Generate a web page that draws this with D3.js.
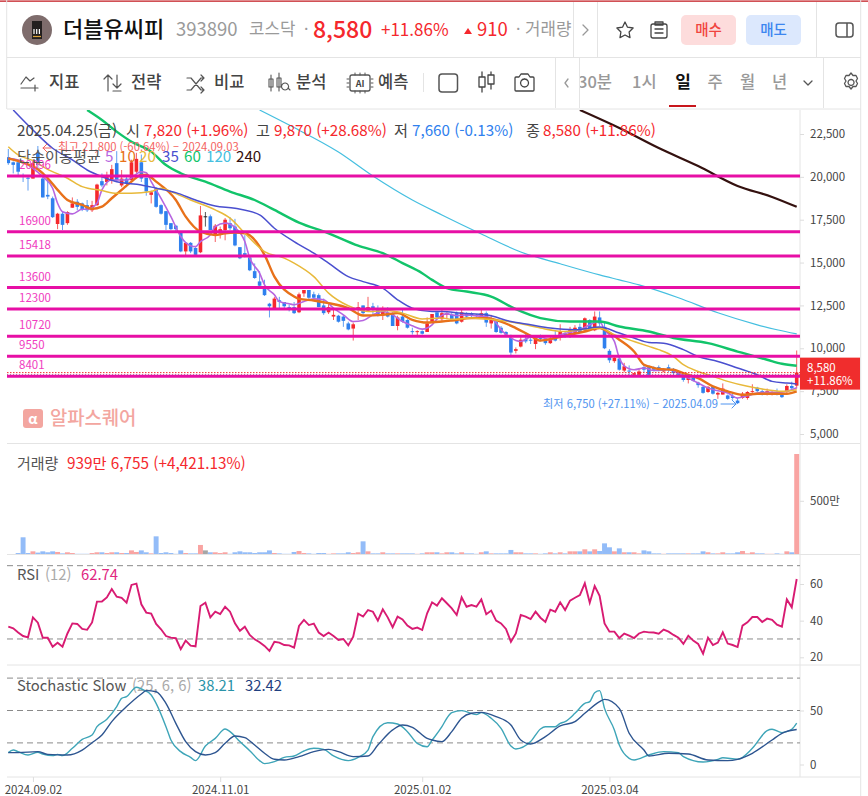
<!DOCTYPE html>
<html lang="ko"><head><meta charset="utf-8">
<script src="https://cdn.jsdelivr.net/npm/d3@7/dist/d3.min.js"></script>
<style>
html,body{margin:0;padding:0;background:#fff}
svg{display:block}
text{font-family:"Noto Sans CJK KR","Noto Sans",sans-serif}
</style></head><body><div id="chart"></div>
<script>
// ---------- candles (KRW), oldest first, one per trading day ----------
const opens=[21150,20850,20850,20100,19950,19900,21400,19900,18950,18750,17250,17850,17300,18200,18550,18450,18350,18050,18350,19750,
19700,19800,20800,19500,19900,19800,20300,20850,19950,18950,19300,18350,18000,17300,17150,16750,15650,16150,15850,15600,
17700,17700,16600,16700,16900,17300,17100,15900,15550,15300,14500,13900,13500,12600,12350,12800,12700,12400,12400,12100,
13200,13400,13150,13100,12500,12100,11850,11900,11850,11450,11150,12350,12500,12200,12450,12350,11950,12050,12050,11300,
11850,11650,11000,10950,11000,10950,11550,12100,11700,11950,11950,12050,11550,12050,12050,11950,11800,12050,11450,11550,
11200,10950,10600,9850,10100,10550,10500,10250,10650,10550,10300,10650,10650,10850,10700,10900,11250,11050,11650,11050,
11800,11250,9850,9250,9400,8700,8700,8450,8450,8900,8900,8900,8900,8650,8900,8800,8600,8450,8150,8300,
8000,7750,7450,7750,7300,7300,7250,7200,6950,7100,7100,7450,7700,7500,7300,7350,7450,7300,7450,7800,7820];
const highs=[21625,20900,21000,20200,20050,21000,21800,20000,19900,18850,17900,17950,18000,18800,18700,18500,18650,18600,19600,20200,
20300,20700,21500,20400,20100,21000,21400,21300,19950,19200,19400,18400,18000,17300,17200,16750,16200,16200,15900,18300,
17950,17800,17250,17100,17600,17650,17550,15900,16600,15350,14950,14500,14000,12650,13000,13000,12700,12550,12700,13250,
13400,13400,13300,13200,12900,12650,12300,11950,11950,11550,11500,12700,12500,13000,12650,12500,12450,12400,12100,11900,
12250,11700,11200,11050,11050,11800,12000,12100,12250,12100,12100,12150,12300,12100,12100,12000,12300,12150,11950,11600,
11300,11000,10800,10050,10650,10950,10600,10650,10800,10600,10700,11000,11400,11000,11250,11350,11450,11800,11700,12150,
12150,11500,9950,9550,9400,9150,9000,8550,8850,9050,9000,8950,9000,8850,9050,8850,8650,8500,8350,8350,
8050,7800,7800,7800,7450,7950,7300,7400,7100,7450,7500,7900,7750,7600,7650,7500,7650,7350,7900,8050,9870];
const lows=[20700,20200,20050,19700,19200,19900,20400,18800,18700,17600,16950,16900,17200,18200,18050,18000,17950,17950,18300,19400,
19500,19600,19700,19400,19400,19800,20200,19700,18900,18450,18200,17800,16900,16900,16750,15600,15400,15550,15400,15550,
17100,16900,16200,16400,16300,16900,15950,15200,15300,14500,14050,13600,13050,11800,12350,12300,12250,12150,12000,12050,
13000,12850,12900,12400,11950,12000,11650,11500,11250,11050,10450,11650,11950,12150,11950,11850,11650,11800,11300,11050,
11500,11150,10800,10750,10800,10950,11550,11750,11600,11700,11650,11400,11500,11800,11750,11750,11800,11250,11150,10900,
10850,10650,9550,9700,10050,10300,10250,9950,10400,10200,10250,10400,10450,10600,10600,10800,10900,11000,11000,11000,
11300,9950,9150,9150,8700,8600,8400,8400,8350,8600,8350,8650,8650,8600,8600,8450,8400,8050,7950,8050,
7700,7350,7400,7300,7050,7300,7000,7000,6750,7050,7000,7400,7450,7250,7250,7250,7250,7100,7400,7600,7660];
const closes=[20800,20700,20300,20050,19900,20800,20700,18800,18850,17650,17850,17200,17950,18450,18250,18100,18050,18350,19550,19500,
20000,20450,19800,19900,19600,20850,21050,19900,19150,19100,18250,17850,17200,16950,16950,15650,16150,15650,15450,17750,
17700,16900,17150,16950,17500,17000,16000,15250,15450,14550,14100,13650,13100,12450,12900,12700,12450,12300,12050,13150,
13400,12950,12950,12400,12050,12400,11950,11550,11600,11100,11400,12400,12050,12400,12350,11900,12250,11850,11300,11800,
11550,11200,10950,11000,10850,11450,12000,11800,12050,12050,11700,11450,12100,11850,11900,11900,12050,11500,11650,10950,
10900,10800,9750,9950,10500,10400,10450,10600,10550,10300,10550,10450,10950,10750,11100,11200,10950,11750,11050,11850,
11450,10000,9300,9450,8750,8950,8650,8550,8650,8750,8450,8750,8700,8800,8750,8550,8450,8150,8300,8100,
7850,7400,7750,7350,7400,7650,7050,7100,6800,7350,7450,7500,7500,7300,7500,7450,7350,7150,7800,7670,8580];
// volume in units of 10,000 shares (만)
const volumes=[0,0,9,157,9,25,13,25,16,25,19,6,16,9,2,2,2,9,16,16,
9,16,16,9,9,34,19,34,16,6,166,9,16,9,2,34,9,6,6,85,
34,16,16,9,16,2,16,25,16,16,9,16,16,34,9,6,2,2,19,28,
9,6,2,9,9,2,6,6,6,16,9,16,119,25,6,6,16,6,6,6,
6,6,6,2,6,16,16,16,6,16,16,6,16,6,6,2,16,25,6,6,
6,6,38,16,16,6,6,6,2,6,16,6,16,6,25,25,25,44,25,44,
28,100,63,25,53,16,16,16,6,34,25,6,6,2,6,6,6,6,6,6,
6,25,16,6,6,16,6,6,16,28,6,16,6,6,2,2,6,2,25,16,939.6755];
const rsiValues=[36.7,35.8,33.5,31.6,30.9,41.8,38.9,30.7,30.7,25.8,28,25.8,33,38.5,38.2,35.5,35,39,50.4,50.4,
52.7,57.3,53.1,52.4,49.8,59.5,60.2,48.9,44.4,43.8,38.2,35.3,31.6,30.7,30.4,24.4,29.1,26.4,26,48,
49.8,41.8,44.9,43.6,47.6,44.9,38.5,34.5,36.7,32.2,29.8,28.2,26.2,23.5,28.5,28,26.7,26.5,25.3,37.1,
40.4,37.6,38.4,33.5,31.6,33.5,31.6,29.5,30,26.5,31.3,43.8,42.2,45.8,44.9,40,46.2,41.8,36.4,42.2,
40.7,37.3,35.5,36.2,34.9,44,50,48.2,52.2,49.5,46.7,43.1,52.7,47.6,48.5,47.6,51.6,43.5,45.5,40,
38.5,35.5,28.5,33,43.1,42.2,40.9,44.9,41.6,39.3,46,44.9,50,45.8,50.9,52.5,54,60.4,49.8,58.9,
53.6,38.5,34,34,30.5,32.9,31.8,30.5,33,34,33.6,33.5,32.9,35.1,34,32.2,30.7,27.3,31.8,29.1,
27.3,22,30.7,26.7,28,33.6,27.5,26.7,25.6,37.3,39.1,42,42,39.3,41.1,40.4,37.8,36.7,51.6,47.3,62.74];

// ---------- moving averages: candle index + value ----------
const ma5Idx=[0,2,5,7,9,10,11,13,15,16,18,19,21,24,27,28,29,31,33,35,36,38,39,41,42,44,46,48,49,51,52,54,55,57,58,60,62,64,66,68,70,72,74,76,78,80,82,84,86,87,89,91,93,95,97,99,100,102,103,104,106,108,110,112,114,116,118,120,121,123,124,125,127,129,131,134,136,138,140,142,144,146,148,150,152,154,156,158,160];
const ma5Val=[21080,20985,20500,20010,19335,18460,17970,17840,18110,18110,18460,19240,19820,19820,20300,20245,19720,18750,17680,16520,16170,15930,16225,16615,17100,17300,17050,16225,15260,14380,13700,13120,12730,12600,12540,12730,12885,12830,12340,11950,11560,11620,11950,12150,11950,11560,11310,11120,11370,11700,12010,11910,11950,11890,11850,11470,11080,10610,10450,10400,10650,10650,10500,10790,10920,11080,11370,11560,11080,10400,9430,8980,8750,8850,8700,8750,8550,8260,7970,7680,7520,7390,7100,7230,7390,7430,7430,7490,7700];
const ma10Idx=[0,3,6,8,10,12,15,17,19,21,23,25,27,28,30,34,36,39,42,44,46,48,52,54,58,59,62,65,69,72,76,79,82,85,88,90,94,97,100,103,106,108,111,114,117,120,121,124,127,129,130,132,135,137,140,143,146,149,152,155,158,160];
const ma10Val=[21080,20830,20440,19920,19240,18650,18360,18130,18260,18750,19240,19720,20110,20110,19720,18650,17680,16800,16610,16710,16750,16710,15450,14180,13020,12885,12790,12630,12340,11910,11950,12050,11660,11500,11560,11620,11760,11760,11560,11180,10730,10450,10600,10790,10980,11180,11080,10500,9810,9040,8940,8790,8750,8550,8260,7780,7490,7290,7350,7350,7350,7490];
const ma20Idx=[0,2,5,8,12,15,19,22,25,29,31,33,37,42,45,48,52,56,58,62,65,69,73,77,80,84,88,90,94,97,100,104,108,113,116,120,123,127,130,132,135,137,140,143,146,150,153,157,160];
const ma20Val=[21760,21280,20950,20440,19920,19430,19200,19040,19040,19140,19340,19140,18650,18070,17590,16710,15640,15260,14970,14180,13220,12480,12150,12210,12050,11710,11760,11700,11760,11700,11620,11430,11180,10980,11080,11180,10790,10400,10110,9920,9520,9040,8650,8360,8070,7780,7620,7490,7580];
const ma35Idx=[1,5,9,13,16,19,22,27,30,34,38,42,46,51,54,58,62,65,69,72,76,79,82,86,88,92,97,102,106,110,115,120,124,127,130,133,137,140,144,148,152,155,158,160];
const ma35Val=[23900,22730,21670,20990,20400,20010,19720,19530,19340,19080,18650,18300,18170,17780,17000,16220,15550,14970,14180,13890,13510,12830,12340,12150,12150,12050,11950,11560,11370,11180,11080,11240,10890,10600,10340,10300,9920,9520,9230,8850,8460,8070,7970,7920];
const ma60Idx=[16,19,22,25,29,32,35,40,45,50,54,59,65,71,76,80,84,86,89,93,98,103,108,114,120,124,130,135,142,148,154,157,160];
const ma60Val=[23900,23320,22640,22050,21470,20690,20210,19720,19140,18650,18070,17330,16710,15990,15550,14970,14380,13990,13510,13310,13020,12280,11760,11560,11560,11270,10980,10600,10300,9810,9330,9100,8980];
const ma120Idx=[51,57,67,74,82,88,96,104,112,120,124,128,136,144,152,156,160];
const ma120Val=[23900,23020,21450,20050,18650,17780,16670,15620,14930,14280,13990,13700,12950,12070,11370,11080,10840];
const ma240Idx=[116,124,132,140,148,155,160];
const ma240Val=[23900,22850,21680,20630,19470,18830,18250];

// ---------- Stochastic Slow ----------
const stochKIdx=[0,1,2,4,6,7,9,10,11,13,15,17,18,20,22,23,24,26,27,29,30,32,33,35,37,38,40,42,44,45,47,49,51,52,54,56,58,60,62,64,66,69,71,73,74,77,79,81,83,85,86,88,89,90,92,95,96,98,100,102,103,106,108,109,111,112,113,115,117,118,119,120,121,123,124,126,127,130,133,136,137,141,144,145,148,151,154,155,157,159,160];
const stochKVal=[11,13.4,11.9,8.8,11.3,9.7,8.2,9.4,8.2,15,23.3,27.3,35,41.8,53.6,61.3,62.8,71.5,69.9,64.4,56.6,35,22.7,11.9,6.6,3.6,17.1,24.2,32.9,30.4,21.2,12.8,3.6,0.8,2.6,6.6,7.9,12.5,15,14,7.9,3.6,6.6,13.4,25.8,38.7,37.5,30.4,19.6,16.5,22.5,35,42.8,48,49.9,46.2,48,42.8,33.5,17.1,14.4,21.2,32.9,35,35,38.1,39.7,47.4,56.6,58.2,66.5,68.4,52,32,18,5.7,4.2,8.8,11.9,11,7.3,2.3,4.8,6.3,4.8,15,31.3,32.6,29.5,32.6,38.21];
const stochDIdx=[0,2,6,8,12,15,17,19,21,24,27,28,30,32,34,36,38,40,42,44,46,48,50,52,54,56,59,62,65,67,70,73,75,78,80,82,85,86,88,90,92,94,96,99,102,104,106,109,112,115,117,120,121,124,126,129,130,134,138,142,146,148,151,155,157,160];
const stochDVal=[11,11,11.9,9.4,8.8,13.4,20.2,27.3,39.7,53.6,65.3,68.4,67.4,56.6,38.1,21.2,11.9,8.8,11,19.6,26.4,24.9,18,10.4,4.8,4.2,7.3,11.9,14,11.9,7.3,7.9,18,32,36.6,34.4,24.2,22.7,21.2,30.4,42.8,47.4,48.3,44.3,36.6,22.7,19,25.8,35.7,39.7,47.4,58.2,60.3,52,28.9,13.4,7.9,10.4,9.7,4.2,3.6,4.8,10.4,22.7,28.9,32.42];

// ---------- levels and ticks ----------
const levels=[20045,16800,15380,13540,12290,10700,9540,8370];
const levelLabels=["20096","16900","15418","13600","12300","10720","9550","8401"];
const priceTicks=[22500,20000,17500,15000,12500,10000,7500,5000];
const volumeTicks=[5000000];
const rsiTicks=[20,40,60];
const rsiGuides=[70,30];
const stochTicks=[0,50];
const stochGuides=[80,50,20];
const dateTickIdx=[5,43,84,122];
const dateTickLabels=["2024.09.02","2024.11.01","2025.01.02","2025.03.04"];
const lastPrice=8580;
const maPeriods=["5","10","20","35","60","120","240"];
const maColors=["#b766e0","#e8711a","#e8b93a","#4a4fcf","#12c46a","#45bfe0","#34110f"];
const maWidths=[1.6,2.4,1.5,1.5,2.4,1.2,2.2];

const W=868,H=796;
const svg=d3.select("#chart").append("svg").attr("width",W).attr("height",H).attr("viewBox",[0,0,W,H]);
const RED="#f5282d",BLUE="#2f80ee",GRID="#e4e4e4",MAG="#e70fa5";

const x=d3.scaleLinear().domain([0,160]).range([8.3,796.7]);
const yP=d3.scaleLinear().domain([5000,22500]).range([434,134]);
const yV=d3.scaleLinear().domain([0,9396755]).range([554,454]);
const yR=d3.scaleLinear().domain([20,60]).range([657.3,584]);
const yS=d3.scaleLinear().domain([0,50]).range([764.5,710.5]);

const txt=(g,s,xx,yy,o={})=>g.append("text").attr("x",xx).attr("y",yy).text(s)
  .attr("font-size",o.size||14).attr("fill",o.fill||"#555").attr("font-weight",o.weight||400)
  .attr("text-anchor",o.anchor||"start").attr("opacity",o.opacity==null?1:o.opacity);
const ln=(g,x1,y1,x2,y2,c=GRID,w=1)=>g.append("line").attr("x1",x1).attr("y1",y1).attr("x2",x2).attr("y2",y2).attr("stroke",c).attr("stroke-width",w);

// ---------- frame ----------
const frame=svg.append("g");
ln(frame,0,1.2,W,1.2,"#c2161c",1.3);
ln(frame,6.7,0,6.7,109);
ln(frame,860.7,0,860.7,H);
ln(frame,7,57.5,861,57.5);
ln(frame,7,109,861,109);
ln(frame,573.5,2,573.5,57); ln(frame,597.5,2,597.5,57); ln(frame,816.5,2,816.5,57);
ln(frame,555.5,58,555.5,108); ln(frame,579.5,58,579.5,108); ln(frame,823.5,58,823.5,108);
ln(frame,423.5,73,423.5,92);
[443.5,665,777].forEach(v=>ln(frame,7,v,860,v));
ln(frame,7,554.5,860,554.5);
ln(frame,800,110,800,777);

// ---------- header ----------
const hd=svg.append("g");
hd.append("circle").attr("cx",37).attr("cy",30).attr("r",15).attr("fill","#7e6c6c");
hd.append("rect").attr("x",32).attr("y",21).attr("width",10).attr("height",18).attr("fill","#231f1f");
[34,36.7,39.4].forEach(v=>ln(hd,v,29,v,34,"#fff",1.2));
ln(hd,33,36.5,41,36.5,"#d9a23a",1.2);
txt(hd,"더블유씨피",63,37,{size:22,fill:"#111",weight:500});
txt(hd,"393890",176,36,{size:18.5,fill:"#9a9a9a"});
txt(hd,"코스닥",249,35,{size:16.8,fill:"#9a9a9a"});
txt(hd,"·",304,35,{size:16,fill:"#999"});
txt(hd,"8,580",313,38,{size:23,fill:RED,weight:500});
txt(hd,"+11.86%",381,36,{size:17,fill:RED});
hd.append("path").attr("d","M464 34l4-6 4 6z").attr("fill",RED);
txt(hd,"910",477,36,{size:18.5,fill:RED});
txt(hd,"·",516,35,{size:16,fill:"#999"});
txt(hd,"거래량",525,35,{size:16.8,fill:"#999"});
const ic=(d,w=1.3,c="#555")=>svg.append("path").attr("d",d).attr("fill","none").attr("stroke",c).attr("stroke-width",w).attr("stroke-linecap","round").attr("stroke-linejoin","round");
ic("M583 25l5 5-5 5",1.3,"#999");
ic("M625 22l2.5 5.2 5.6.8-4 4 .9 5.6-5-2.6-5 2.6 .9-5.6-4-4 5.6-.8z",1.3,"#444");
ic("M653 24h12a2 2 0 0 1 2 2v10a2 2 0 0 1-2 2h-12a2 2 0 0 1-2-2v-10a2 2 0 0 1 2-2zM655 22h8v3h-8zM655 29h8M655 33h8",1.3,"#444");
hd.append("rect").attr("x",681).attr("y",15).attr("width",55).attr("height",30).attr("rx",5).attr("fill","#fddcdc");
hd.append("rect").attr("x",746).attr("y",15).attr("width",55).attr("height",30).attr("rx",5).attr("fill","#dce8fd");
txt(hd,"매수",708.5,34.5,{size:14.5,fill:"#f0453f",anchor:"middle",weight:500});
txt(hd,"매도",773.5,34.5,{size:14.5,fill:"#3c86f0",anchor:"middle",weight:500});
ic("M839 23h11a3 3 0 0 1 3 3v8a3 3 0 0 1-3 3h-11a3 3 0 0 1-3-3v-8a3 3 0 0 1 3-3zM847 23v14",1.5,"#555");

// ---------- toolbar ----------
[["지표",49],["전략",131],["비교",214],["분석",296],["예측",378]].forEach(d=>txt(hd,d[0],d[1],88,{size:16.5,fill:"#444",weight:500}));
ic("M21 88h14M21 84l5-7 4 4 4-3M35 85v6M32 88h6",1.2);
ic("M108 91V75M104 79l4-4 4 4M117 75v13M113 84l4 4 4-4M113 91h8",1.2);
ic("M187 78h4l10 12h3M187 90h4l10-12h3M201 75l3 3-3 3M201 87l3 3-3 3",1.2);
ic("M271 75v16M269 79h4v8h-4zM279 73v18M277 78h4v9h-4zM285 83a3.500 3.500 0 1 0 .1 0M288 88l2 2",1.1);
ic("M352 75h16a2 2 0 0 1 2 2v12a2 2 0 0 1-2 2h-16a2 2 0 0 1-2-2v-12a2 2 0 0 1 2-2z",1.3);
ic("M349 79h-2M349 83h-2M349 87h-2M371 79h2M371 83h2M371 87h2M355 75v-2M360 75v-2M365 75v-2M355 91v2M360 91v2M365 91v2",1);
txt(hd,"AI",360,86.5,{size:9,fill:"#444",anchor:"middle",weight:700});
hd.append("rect").attr("x",439).attr("y",74).attr("width",18.500).attr("height",18).attr("rx",3).attr("fill","none").attr("stroke","#555").attr("stroke-width",1.5);
ic("M482 72v5M482 87v5M479 77h6v10h-6zM491 72v3M491 84v5M488 75h6v9h-6z",1.3,"#444");
ic("M516 77h3l2-3h7l2 3h3a1 1 0 0 1 1 1v12a1 1 0 0 1-1 1h-17a1 1 0 0 1-1-1v-12a1 1 0 0 1 1-1zM524.500 79a4 4 0 1 0 .1 0",1.3,"#444");
ic("M568 79l-3 4 3 4",1.3,"#999");
svg.append("clipPath").attr("id","clipT").append("rect").attr("x",580).attr("y",60).attr("width",280).attr("height",45);
const tf=svg.append("g").attr("clip-path","url(#clipT)");
txt(tf,"30분",578,88,{size:16.5,fill:"#999",weight:500});
txt(tf,"1시",632,88,{size:16.5,fill:"#999",weight:500});
txt(tf,"일",683,88,{size:17,fill:"#111",weight:700,anchor:"middle"});
txt(tf,"주",715,88,{size:16.5,fill:"#999",anchor:"middle",weight:500});
txt(tf,"월",747.500,88,{size:16.5,fill:"#999",anchor:"middle",weight:500});
txt(tf,"년",779.500,88,{size:16.5,fill:"#999",anchor:"middle",weight:500});
hd.append("rect").attr("x",669).attr("y",105).attr("width",27).attr("height",2).attr("fill","#c8161c");
ic("M804 81l4 4 4-4",1.3,"#555");
ic("M851 73l2 2.500 3 0 1.500 3-1.500 2.500 1.500 2.500-1.500 3-3 0-2 2.500-2-2.500-3 0-1.500-3 1.500-2.500-1.500-2.500 1.500-3 3 0zM851 79.500a3 3 0 1 0 .1 0",1.3,"#555");

// ---------- price pane ----------
svg.append("clipPath").attr("id","clipP").append("rect").attr("x",7).attr("y",110).attr("width",793).attr("height",333);
const pane=svg.append("g").attr("clip-path","url(#clipP)");

// watermark
const wm=svg.append("g");
wm.append("rect").attr("x",23).attr("y",409).attr("width",20).attr("height",19).attr("rx",3).attr("fill","#f3a6a0");
txt(wm,"α",33,424,{size:14,fill:"#fff",anchor:"middle",weight:700});
txt(wm,"알파스퀘어",50,424.5,{size:18.8,fill:"#f3a6a0",weight:500});

const colorOf=i=>closes[i]>opens[i]?RED:closes[i]<opens[i]?BLUE:"#222";
const idx=d3.range(opens.length);
pane.selectAll("line.wick").data(idx).join("line").attr("class","wick")
  .attr("x1",i=>x(i)).attr("x2",i=>x(i)).attr("y1",i=>yP(highs[i])).attr("y2",i=>yP(lows[i]))
  .attr("stroke",colorOf).attr("stroke-width",1).attr("opacity",.75);
pane.selectAll("rect.body").data(idx).join("rect").attr("class","body")
  .attr("x",i=>x(i)-1.8).attr("width",3.6)
  .attr("y",i=>yP(Math.max(opens[i],closes[i])))
  .attr("height",i=>Math.max(1,Math.abs(yP(opens[i])-yP(closes[i]))))
  .attr("fill",colorOf);

const pathOf=(ix,val,y,curve)=>d3.line().x(d=>x(d[0])).y(d=>y(d[1])).curve(curve)(ix.map((v,k)=>[v,val[k]]));
const mas=[[ma5Idx,ma5Val],[ma10Idx,ma10Val],[ma20Idx,ma20Val],[ma35Idx,ma35Val],[ma60Idx,ma60Val],[ma120Idx,ma120Val],[ma240Idx,ma240Val]];
mas.forEach((m,k)=>pane.append("path").attr("d",pathOf(m[0],m[1],yP,d3.curveMonotoneX)).attr("fill","none")
  .attr("stroke",maColors[k]).attr("stroke-width",maWidths[k]));

ln(pane,7,yP(lastPrice)+2,800,yP(lastPrice)+2,"#777",.8).attr("stroke-dasharray","1 2");
ln(pane,7,yP(lastPrice),800,yP(lastPrice),"#ef2b2b",1).attr("stroke-dasharray","1.5 1.5");
pane.selectAll("line.level").data(levels).join("line").attr("class","level")
  .attr("x1",7).attr("x2",800).attr("y1",d=>yP(d)).attr("y2",d=>yP(d)).attr("stroke",MAG).attr("stroke-width",3);
pane.selectAll("text.lv").data(levels).join("text").attr("class","lv")
  .attr("x",19).attr("y",d=>yP(d)-7).text((d,i)=>levelLabels[i])
  .attr("font-size",11.5).attr("fill","#f03cc0");

// price axis
const axisStyle=g=>{g.select(".domain").remove();g.selectAll(".tick line").attr("stroke","#ddd");
  g.selectAll(".tick text").attr("fill","#444").attr("font-size",11.5).attr("font-family",'"Noto Sans CJK KR"');};
svg.append("g").attr("transform","translate(800,0)").call(d3.axisRight(yP).tickValues(priceTicks).tickSize(4).tickPadding(6).tickFormat(d3.format(","))).call(axisStyle);

// price tag
const tag=svg.append("g");
tag.append("rect").attr("x",800).attr("y",yP(lastPrice)-15).attr("width",60).attr("height",32).attr("fill","#f02d2d");
txt(tag,"8,580",807,yP(lastPrice)-1,{size:11.5,fill:"#fff"});
txt(tag,"+11.86%",807,yP(lastPrice)+12.5,{size:11.5,fill:"#fff"});

// high/low callouts
const cal=svg.append("g");
ic("M51 148H43M47 144l-4 4 4 4",1,"#f4645f");
txt(cal,"최고 21,800 (-60.64%) – 2024.09.03",58,151,{size:11.3,fill:"#f4645f"});
txt(cal,"최저 6,750 (+27.11%) – 2025.04.09",543,408,{size:11.2,fill:"#4f94f0"});
ic("M721 404H736M732 400l4 4-4 4",1,"#4f94f0");

// legend
const lg=svg.append("g");
const lgY=136,FS=15.2;
[["2025.04.25(금)",17,"#444"],["시",126,"#444"],["7,820 (+1.96%)",144,RED],["고",256,"#444"],["9,870 (+28.68%)",274,RED],
 ["저",394,"#444"],["7,660 (-0.13%)",412,BLUE],["종",526,"#444"],["8,580 (+11.86%)",543,RED]]
 .forEach(d=>txt(lg,d[0],d[1],lgY,{size:FS,fill:d[2]}));
txt(lg,"단순이동평균",17,162,{size:FS,fill:"#555"});
const maLegendX=[105,119,139,162,184,206,236];
maPeriods.forEach((p,k)=>txt(lg,p,maLegendX[k],162,{size:FS,fill:maColors[k]}));

// ---------- volume pane ----------
const vg=svg.append("g");
vg.selectAll("rect").data(idx).join("rect")
  .attr("x",i=>x(i)-2.47).attr("width",4.94)
  .attr("y",i=>yV(volumes[i]*10000)).attr("height",i=>yV(0)-yV(volumes[i]*10000))
  .attr("fill",i=>closes[i]>opens[i]?"#f9a4a2":closes[i]<opens[i]?"#93bcf8":"#a6a6a6");
svg.append("g").attr("transform","translate(800,0)").call(d3.axisRight(yV).tickValues(volumeTicks).tickSize(4).tickPadding(6).tickFormat(d=>d/10000+"만")).call(axisStyle);
txt(lg,"거래량",17,469,{size:15,fill:"#555"});
txt(lg,"939만 6,755 (+4,421.13%)",67,469,{size:15.3,fill:RED});

// ---------- RSI pane ----------
const rg=svg.append("g");
rg.selectAll("line").data(rsiGuides).join("line").attr("x1",7).attr("x2",800).attr("y1",d=>yR(d)).attr("y2",d=>yR(d))
  .attr("stroke","#8a8a8a").attr("stroke-dasharray","6 4");
rg.append("path").attr("d",d3.line().x((d,i)=>x(i)).y(d=>yR(d))(rsiValues)).attr("fill","none").attr("stroke","#d81b72").attr("stroke-width",1.9);
svg.append("g").attr("transform","translate(800,0)").call(d3.axisRight(yR).tickValues(rsiTicks).tickSize(4).tickPadding(6)).call(axisStyle);
txt(lg,"RSI",17,580,{size:14.8,fill:"#555"});
txt(lg,"(12)",45,580,{size:14.8,fill:"#aaa"});
txt(lg,"62.74",81,580,{size:14.8,fill:"#e0267f"});

// ---------- Stochastic pane ----------
const sg=svg.append("g");
sg.selectAll("line").data(stochGuides).join("line").attr("x1",7).attr("x2",800).attr("y1",d=>yS(d)).attr("y2",d=>yS(d))
  .attr("stroke","#8a8a8a").attr("stroke-dasharray","6 4");
sg.append("path").attr("d",pathOf(stochKIdx,stochKVal,yS,d3.curveMonotoneX)).attr("fill","none").attr("stroke","#3ea5b8").attr("stroke-width",1.4);
sg.append("path").attr("d",pathOf(stochDIdx,stochDVal,yS,d3.curveMonotoneX)).attr("fill","none").attr("stroke","#2d5590").attr("stroke-width",1.4);
svg.append("g").attr("transform","translate(800,0)").call(d3.axisRight(yS).tickValues(stochTicks).tickSize(4).tickPadding(6)).call(axisStyle);
txt(lg,"Stochastic Slow",17,691,{size:14.8,fill:"#555"});
txt(lg,"(25, 6, 6)",132,691,{size:14.8,fill:"#aaa"});
txt(lg,"38.21",198,691,{size:14.8,fill:"#2a93a8"});
txt(lg,"32.42",245,691,{size:14.8,fill:"#1f3f80"});

// ---------- time axis ----------
svg.append("g").attr("transform","translate(0,777)")
  .call(d3.axisBottom(x).tickValues(dateTickIdx).tickSize(5).tickPadding(4).tickFormat(d=>dateTickLabels[dateTickIdx.indexOf(d)]))
  .call(axisStyle);
</script></body></html>
